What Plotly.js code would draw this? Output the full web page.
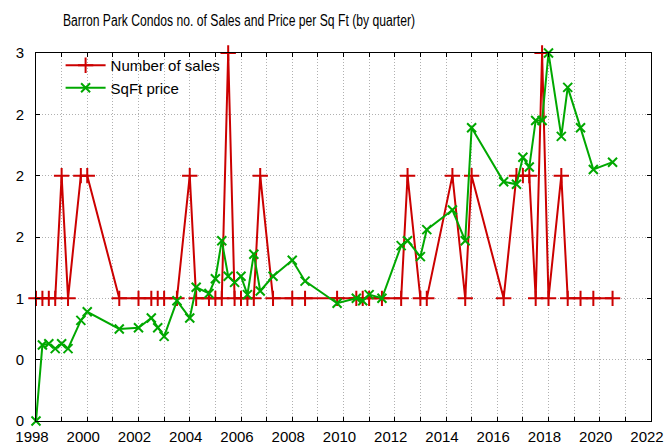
<!DOCTYPE html>
<html><head><meta charset="utf-8">
<script src="https://cdn.plot.ly/plotly-3.0.1.min.js"></script>
<style>body{margin:0;background:#fff}#chart{width:664px;height:444px}</style>
</head><body><div id="chart"></div>
<script>
const quarters = [1998.0,1998.25,1998.5,1998.75,1999.0,1999.25,1999.75,2000.0,2001.25,2002.0,2002.5,2002.75,2003.0,2003.5,2004.0,2004.25,2004.75,2005.0,2005.25,2005.5,2005.75,2006.0,2006.25,2006.5,2006.75,2007.25,2008.0,2008.5,2009.75,2010.5,2010.75,2011.0,2011.5,2012.25,2012.5,2013.0,2013.25,2014.25,2014.75,2015.0,2016.25,2016.75,2017.0,2017.25,2017.5,2017.75,2018.0,2018.5,2018.75,2019.25,2019.75,2020.5];
const salesCount = [1,1,1,1,2,1,2,2,1,1,1,1,1,1,2,1,1,1,1,3,1,1,1,1,2,1,1,1,1,1,1,1,1,1,2,1,1,2,1,2,1,2,2,2,1,3,1,2,1,1,1,1];
const sqftPrice = [0.0,0.62,0.63,0.59,0.63,0.59,0.82,0.89,0.75,0.76,0.84,0.76,0.69,0.98,0.84,1.09,1.04,1.16,1.47,1.18,1.13,1.18,1.03,1.36,1.06,1.18,1.31,1.14,0.96,1.0,0.98,1.03,1.0,1.43,1.47,1.34,1.56,1.72,1.47,2.39,1.95,1.93,2.15,2.07,2.45,2.45,3.0,2.32,2.72,2.39,2.05,2.11];
const yTickVals = [0,0.5,1,1.5,2,2.5,3];
const yTickText = ['0','0','1','2','2','2','3'];
const seriesNames = ['Number of sales','SqFt price'];
const chartTitle = 'Barron Park Condos no. of Sales and Price per Sq Ft (by quarter)';

const RED = '#cc0000', GREEN = '#00a800';
const baseFont = {family:'"Liberation Sans", Arial, sans-serif', size:15, color:'#000'};
const traces = [
  {x:quarters, y:salesCount, name:seriesNames[0], type:'scatter', mode:'lines+markers', cliponaxis:false,
   line:{color:RED, width:2}, marker:{symbol:'cross-thin-open', size:11, line:{color:RED, width:2}, color:RED}},
  {x:quarters, y:sqftPrice, name:seriesNames[1], type:'scatter', mode:'lines+markers', cliponaxis:false,
   line:{color:GREEN, width:2}, marker:{symbol:'x-thin-open', size:9, line:{color:GREEN, width:2}, color:GREEN}}
];
const grid = {showgrid:true, gridcolor:'#b0b0b0', gridwidth:1, griddash:'1px,2px'};
const layout = {
  width:664, height:444, margin:{l:36, r:13, t:53, b:23, autoexpand:false},
  paper_bgcolor:'#fff', plot_bgcolor:'#fff', font:baseFont, showlegend:true, hovermode:false,
  title:{text:chartTitle, font:{family:'"Liberation Sans", Arial, sans-serif', size:16, color:'#000'},
         x:239/664, xref:'container', xanchor:'center', y:1-20/444, yref:'container', yanchor:'middle'},
  xaxis:Object.assign({range:[1998,2022], tickmode:'linear', tick0:1998, dtick:2, ticks:'inside', ticklen:4, tickcolor:'#000',
    showline:true, linecolor:'#000', linewidth:1, mirror:'allticks', zeroline:false, tickfont:baseFont, ticklabelstandoff:2,
    ticklabelshift:-4, ticklabeloverflow:'allow',
    minor:{dtick:1, ticks:'inside', ticklen:4, tickcolor:'#000', showgrid:true, gridcolor:'#b0b0b0', gridwidth:1, griddash:'1px,2px'}}, grid),
  yaxis:Object.assign({range:[0,3], tickvals:yTickVals, ticktext:yTickText, ticks:'inside', ticklen:4, tickcolor:'#000',
    showline:true, linecolor:'#000', linewidth:1, mirror:'allticks', zeroline:false, tickfont:baseFont, ticklabelstandoff:8}, grid),
  legend:{x:0.04, y:1.011, xanchor:'left', yanchor:'top', bgcolor:'rgba(0,0,0,0)', font:baseFont, tracegroupgap:0, itemwidth:40}
};
Plotly.newPlot('chart', traces, layout, {displayModeBar:false, staticPlot:true}).then(function(gd){
  // narrow the title glyphs to match the condensed face of the reference
  const t = gd.querySelector('.gtitle');
  if (t) { t.setAttribute('textLength', '352'); t.setAttribute('lengthAdjust', 'spacingAndGlyphs'); }
});
</script></body></html>
